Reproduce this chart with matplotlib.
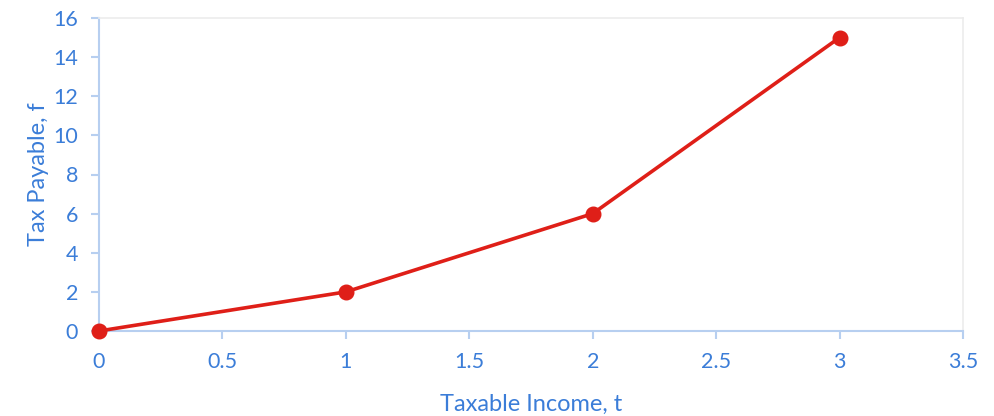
import matplotlib
matplotlib.use("Agg")
import matplotlib.pyplot as plt

x_vals = [0, 1, 2, 3]
y_vals = [0, 2, 6, 15]
x_ticks = [0, 0.5, 1, 1.5, 2, 2.5, 3, 3.5]
x_tick_labels = ["0", "0.5", "1", "1.5", "2", "2.5", "3", "3.5"]
y_ticks = [0, 2, 4, 6, 8, 10, 12, 14, 16]

plt.rcParams['font.family'] = ['Lato', 'DejaVu Sans']
text_c = '#3b7dd8'
axis_c = '#b7cff0'
line_c = '#df1f18'

fig = plt.figure(figsize=(9.94, 4.16), dpi=100)
ax = fig.add_axes([99/994, 1-331/416, (963-99)/994, (331-18)/416])
ax.plot(x_vals, y_vals, color=line_c, lw=2.6, marker='o', ms=10.5, clip_on=False, zorder=5)
ax.set_xlim(0, 3.5)
ax.set_ylim(0, 16)
ax.set_xticks(x_ticks)
ax.set_xticklabels(x_tick_labels)
ax.set_yticks(y_ticks)
for s in ['left', 'bottom']:
    ax.spines[s].set_color(axis_c)
    ax.spines[s].set_linewidth(1.5)
for s in ['top', 'right']:
    ax.spines[s].set_color('#ececec')
    ax.spines[s].set_linewidth(1.2)
ax.tick_params(axis='both', colors=axis_c, labelcolor=text_c, labelsize=15.5, length=6, width=1.5, direction='out')
ax.tick_params(axis='x', pad=9)
ax.tick_params(axis='y', pad=9)
ax.set_xlabel('Taxable Income, t', color=text_c, fontsize=17, labelpad=16)
ax.set_ylabel('Tax Payable, f', color=text_c, fontsize=17, labelpad=3)
fig.savefig('out.png', dpi=100)
